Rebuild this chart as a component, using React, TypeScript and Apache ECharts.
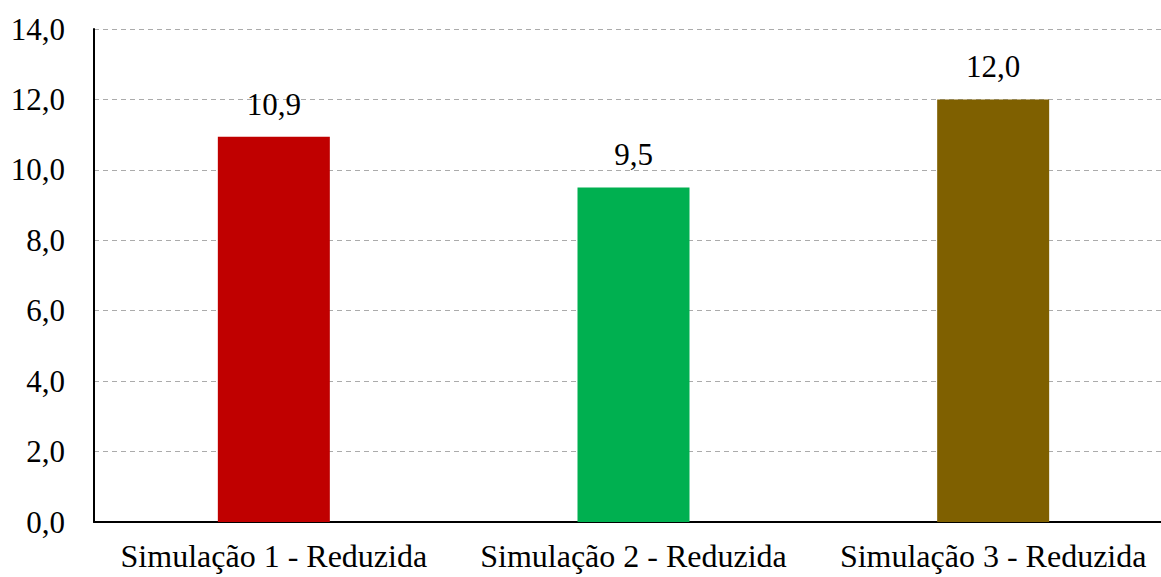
import React, { useEffect, useRef } from "react";
import * as echarts from "echarts";

const categories = ["Simulação 1 - Reduzida", "Simulação 2 - Reduzida", "Simulação 3 - Reduzida"];
const values = [10.94, 9.5, 12.0];
const colors = ["#C00000", "#00B050", "#7F6000"];
const yTicks = { min: 0, max: 14, interval: 2 };

const FONT = "Liberation Serif, DejaVu Serif, serif";

export default function App() {
  const ref = useRef<HTMLDivElement>(null);
  useEffect(() => {
    document.body.style.margin = "0";
    const chart = echarts.init(ref.current!, null, { renderer: "svg" });
    chart.setOption({
      animation: false,
      backgroundColor: "#ffffff",
      textStyle: { fontFamily: FONT },
      grid: { left: 94, right: 0, top: 29, bottom: 55, containLabel: false },
      xAxis: {
        type: "category",
        data: categories,
        axisLine: { lineStyle: { color: "#000000", width: 2 } },
        axisTick: { show: false },
        axisLabel: { color: "#000000", fontFamily: FONT, fontSize: 32, margin: 18, interval: 0 },
      },
      yAxis: {
        type: "value",
        min: yTicks.min,
        max: yTicks.max,
        interval: yTicks.interval,
        axisLine: { show: true, lineStyle: { color: "#000000", width: 2 } },
        axisTick: { show: false },
        splitLine: { lineStyle: { color: "#ABABAB", type: [5, 4], width: 1 } },
        axisLabel: {
          color: "#000000",
          fontFamily: FONT,
          fontSize: 31,
          margin: 29,
          formatter: (v: number) => v.toFixed(1).replace(".", ","),
        },
      },
      series: [
        {
          type: "bar",
          barWidth: 112,
          data: values.map((v, i) => ({ value: v, itemStyle: { color: colors[i] } })),
          label: {
            show: true,
            position: "top",
            distance: 17,
            color: "#000000",
            fontFamily: FONT,
            fontSize: 31,
            formatter: (p: any) => (Math.floor(p.value * 10) / 10).toFixed(1).replace(".", ","),
          },
        },
      ],
    });
    return () => chart.dispose();
  }, []);
  return (
    <div style={{ width: 1161, height: 577, overflow: "hidden", position: "relative" }}>
      <div ref={ref} style={{ width: 1173, height: 577 }} />
    </div>
  );
}
